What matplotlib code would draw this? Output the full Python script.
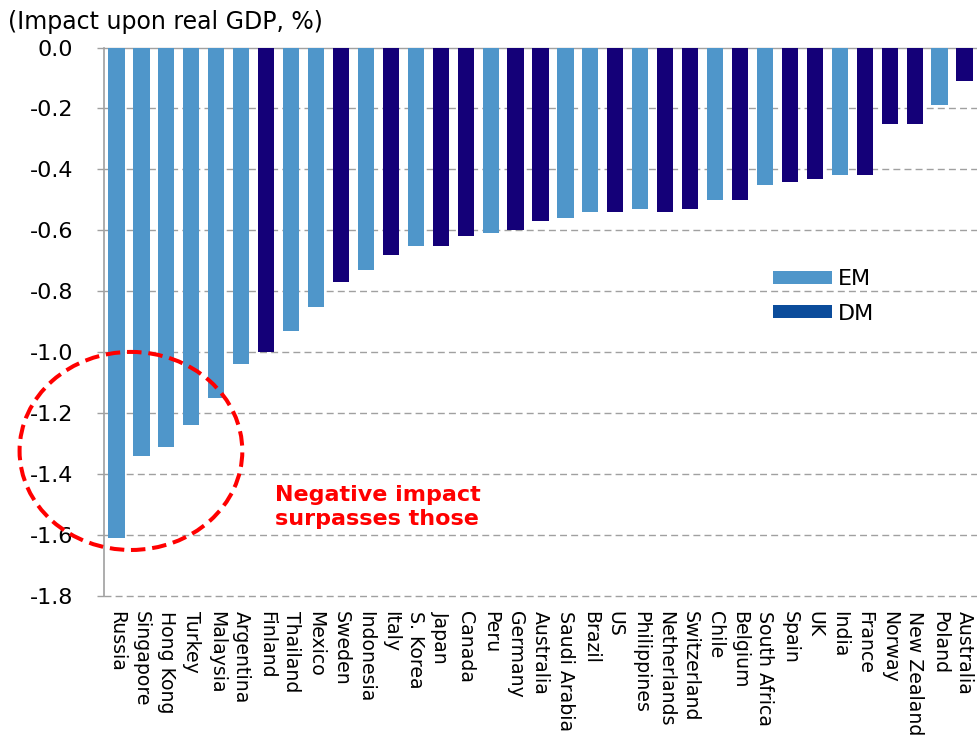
import matplotlib.pyplot as plt
from matplotlib.patches import Patch, Ellipse

# Impact upon real GDP (%) by country, sorted from most negative
countries = ['Russia', 'Singapore', 'Hong Kong', 'Turkey', 'Malaysia', 'Argentina',
             'Finland', 'Thailand', 'Mexico', 'Sweden', 'Indonesia', 'Italy',
             'S. Korea', 'Japan', 'Canada', 'Peru', 'Germany', 'Australia',
             'Saudi Arabia', 'Brazil', 'US', 'Philippines', 'Netherlands',
             'Switzerland', 'Chile', 'Belgium', 'South Africa', 'Spain', 'UK',
             'India', 'France', 'Norway', 'New Zealand', 'Poland', 'Australia']
impact = [-1.61, -1.34, -1.31, -1.24, -1.15, -1.04,
          -1.00, -0.93, -0.85, -0.77, -0.73, -0.68,
          -0.65, -0.65, -0.62, -0.61, -0.60, -0.57,
          -0.56, -0.54, -0.54, -0.53, -0.54,
          -0.53, -0.50, -0.50, -0.45, -0.44, -0.43,
          -0.42, -0.42, -0.25, -0.25, -0.19, -0.11]
group = ['EM', 'EM', 'EM', 'EM', 'EM', 'EM',
         'DM', 'EM', 'EM', 'DM', 'EM', 'DM',
         'EM', 'DM', 'DM', 'EM', 'DM', 'DM',
         'EM', 'EM', 'DM', 'EM', 'DM',
         'DM', 'EM', 'DM', 'EM', 'DM', 'DM',
         'EM', 'DM', 'DM', 'DM', 'EM', 'DM']
yticks = [0.0, -0.2, -0.4, -0.6, -0.8, -1.0, -1.2, -1.4, -1.6, -1.8]

em_color = '#4f96ca'
dm_color = '#140078'
dm_legend_color = '#0b4c9b'
grid_color = '#a0a0a0'

plt.rcParams['font.family'] = 'DejaVu Sans'

fig = plt.figure(figsize=(9.77, 7.38), dpi=100)
ax = fig.add_axes([104 / 977, 1 - 596 / 738, 1 - 104 / 977, (596 - 47.5) / 738])

x = list(range(len(countries)))
colors = [em_color if g == 'EM' else dm_color for g in group]
ax.bar(x, impact, width=0.65, color=colors, zorder=3)

ax.set_xlim(-0.5, len(countries) - 0.5)
ax.set_ylim(-1.8, 0.0)
ax.set_yticks(yticks)
ax.set_yticklabels(['%.1f' % v for v in yticks])
ax.set_xticks(x)
ax.set_xticklabels(countries)

ax.tick_params(axis='y', length=5, width=1, color=grid_color, pad=17, labelsize=16)
ax.tick_params(axis='x', length=0, pad=11, labelsize=13.6, labelrotation=-90)

# dashed horizontal grid, solid line at zero
for v in yticks[1:]:
    ax.axhline(v, color=grid_color, lw=1.0, linestyle=(0, (5, 3)), zorder=1,
               clip_on=False)
for side in ['right', 'bottom']:
    ax.spines[side].set_visible(False)
ax.spines['top'].set_color(grid_color)
ax.spines['top'].set_linewidth(1.0)
ax.spines['left'].set_color(grid_color)
ax.spines['left'].set_linewidth(1.2)

fig.text(8 / 977, 1 - 22 / 738, '(Impact upon real GDP, %)', fontsize=17,
         ha='left', va='center')

handles = [Patch(facecolor=em_color, label='EM'),
           Patch(facecolor=dm_legend_color, label='DM')]
ax.legend(handles=handles, loc='upper left', frameon=False, fontsize=16,
          bbox_to_anchor=(772.7 / 977, 1 - 269 / 738),
          bbox_transform=fig.transFigure, borderpad=0, borderaxespad=0,
          handlelength=2.66, handleheight=0.54, handletextpad=0.28,
          labelspacing=0.66)

# highlight the largest declines
ring = Ellipse((0.58, -1.324), width=8.93, height=0.65, fill=False,
               edgecolor='#ff0000', lw=2.9, linestyle=(0, (3.6, 1.7)),
               clip_on=False, zorder=4)
ax.add_patch(ring)
ax.text(6.36, -1.508, 'Negative impact\nsurpasses those', color='#ff0000',
        fontsize=16, fontweight='bold', ha='left', va='center', zorder=5)

fig.savefig('out.png', dpi=100)
